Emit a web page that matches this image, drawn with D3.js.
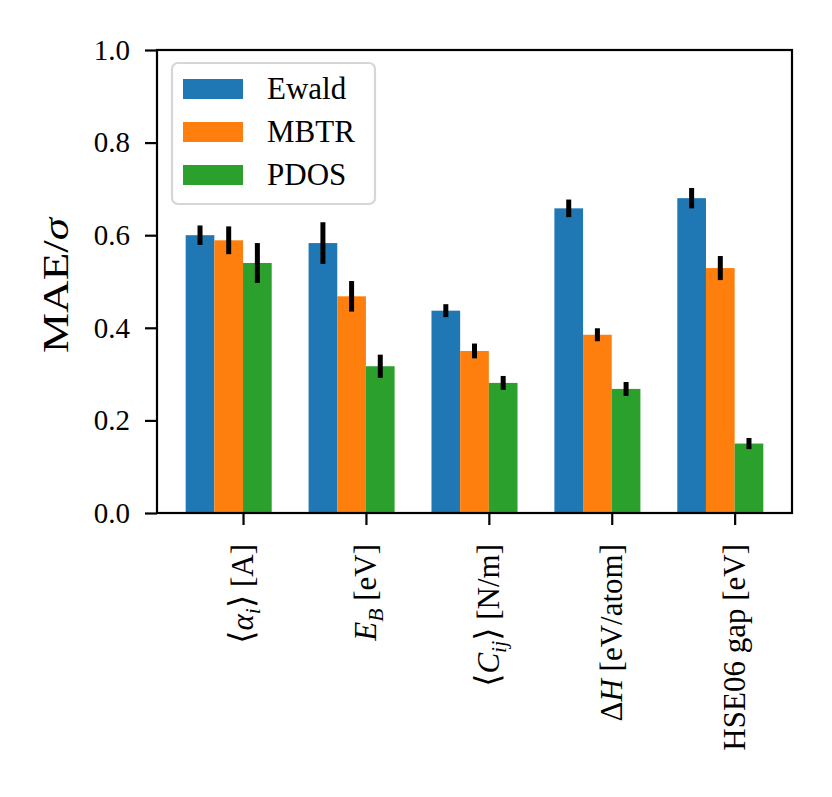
<!DOCTYPE html>
<html>
<head>
<meta charset="utf-8">
<script src="https://cdn.jsdelivr.net/npm/d3@7"></script>
<style>
	body { margin: 0; background: #fff; }
	svg text { font-family: "Liberation Serif", "DejaVu Serif", serif; fill: #000; }
</style>
</head>
<body>
<svg id="chart"></svg>
<script>
// chart data
var categories = ["⟨{α}_{i}⟩ [A]", "{E}_{B} [eV]", "⟨{C}_{ij}⟩ [N/m]", "Δ{H} [eV/atom]", "HSE06 gap [eV]"];
var seriesNames = ["Ewald", "MBTR", "PDOS"];
var ewald = [0.600, 0.583, 0.437, 0.658, 0.680];
var mbtr = [0.589, 0.468, 0.350, 0.385, 0.529];
var pdos = [0.540, 0.317, 0.281, 0.268, 0.150];
var ewaldErr = [0.021, 0.045, 0.014, 0.019, 0.022];
var mbtrErr = [0.030, 0.033, 0.016, 0.014, 0.026];
var pdosErr = [0.043, 0.025, 0.015, 0.015, 0.012];
var yTicks = [0.0, 0.2, 0.4, 0.6, 0.8, 1.0];
var yLabel = "MAE/{σ}";
var colors = ["#1f77b4", "#ff7f0e", "#2ca02c"];

var W = 832, H = 797;
var margin = {top: 50, left: 157, right: 40, bottom: 284},
	width = W - margin.left - margin.right,
	height = H - margin.top - margin.bottom,
	svg = d3.select("#chart").attr("width", W).attr("height", H),
	g = svg.append("g").attr("transform", "translate(" + margin.left + "," + margin.top + ")");

var bw = 0.7 / 3,
	fs = 31;

var x = d3.scaleLinear().domain([-3 * bw, categories.length - 1 + 2 * bw]).range([0, width]),
	y = d3.scaleLinear().domain([0, 1]).range([height, 0]);

// turns "a{b}_{c}" into italic / subscript tspans
var richText = function(sel, str, size) {
	var re = /_\{([^}]*)\}|\{([^}]*)\}|([^{_]+)/g, m, sub = false;
	while ((m = re.exec(str)) !== null) {
		if (m[1] !== undefined) {
			sel.append("tspan").attr("font-style", "italic").attr("font-size", size * 0.7)
				.attr("dy", size * 0.22).text(m[1]);
			sub = true;
		} else {
			var txt = m[2] !== undefined ? m[2] : m[3];
			var parts = txt.split(/([⟨⟩])/).filter(function(p) { return p.length; });
			parts.forEach(function(p) {
				var t = sel.append("tspan").text(p);
				if (p == "⟨" || p == "⟩") t.attr("font-size", size * 1.1);
				if (m[2] !== undefined) t.attr("font-style", "italic");
				if (sub) { t.attr("dy", -size * 0.22); sub = false; }
			});
		}
	}
};

var series = [
	{name: seriesNames[0], vals: ewald, err: ewaldErr, off: -2 * bw},
	{name: seriesNames[1], vals: mbtr, err: mbtrErr, off: -bw},
	{name: seriesNames[2], vals: pdos, err: pdosErr, off: 0}
];

series.forEach(function(s, si) {
	var grp = g.append("g").attr("class", "series");
	grp.selectAll("rect")
		.data(s.vals)
		.enter().append("rect")
			.attr("x", function(d, i) { return x(i + s.off); })
			.attr("y", function(d) { return y(d); })
			.attr("width", x(bw) - x(0))
			.attr("height", function(d) { return y(0) - y(d); })
			.attr("fill", colors[si]);
});

series.forEach(function(s) {
	g.append("g").selectAll("line")
		.data(s.vals)
		.enter().append("line")
			.attr("x1", function(d, i) { return x(i + s.off + bw / 2); })
			.attr("x2", function(d, i) { return x(i + s.off + bw / 2); })
			.attr("y1", function(d, i) { return y(d - s.err[i]); })
			.attr("y2", function(d, i) { return y(d + s.err[i]); })
			.attr("stroke", "#000")
			.attr("stroke-width", 5);
});

// axes
var yAxis = d3.axisLeft(y).tickValues(yTicks).tickFormat(d3.format(".1f")).tickSize(12).tickSizeOuter(0).tickPadding(15);
var gy = g.append("g").attr("class", "axis yaxis").call(yAxis);
gy.select(".domain").remove();
gy.selectAll(".tick line").attr("stroke-width", 2.2);
gy.selectAll(".tick text").attr("font-size", 29).attr("font-family", null);

var xAxis = d3.axisBottom(x).tickValues(d3.range(categories.length)).tickFormat("").tickSize(12).tickSizeOuter(0);
var gx = g.append("g").attr("class", "axis xaxis").attr("transform", "translate(0," + height + ")").call(xAxis);
gx.select(".domain").remove();
gx.selectAll(".tick line").attr("stroke-width", 2.2);

categories.forEach(function(c, i) {
	var t = g.append("text")
		.attr("transform", "translate(" + x(i) + "," + (height + 31) + ") rotate(-90)")
		.attr("text-anchor", "end")
		.attr("dy", "0.33em")
		.attr("font-size", fs);
	richText(t, c, fs);
});

// frame
g.append("rect")
	.attr("width", width).attr("height", height)
	.attr("fill", "none").attr("stroke", "#000").attr("stroke-width", 2.2);

// y label
var yl = g.append("text")
	.attr("transform", "translate(-89," + (height / 2 + 4) + ") rotate(-90)")
	.attr("text-anchor", "middle")
	.attr("font-size", 35)
	.attr("textLength", 135)
	.attr("lengthAdjust", "spacingAndGlyphs");
richText(yl, yLabel, 35);

// legend
var lg = g.append("g").attr("transform", "translate(15,13)");
lg.append("rect")
	.attr("width", 203).attr("height", 141).attr("rx", 6)
	.attr("fill", "#fff").attr("fill-opacity", 0.8)
	.attr("stroke", "#d6d6d6").attr("stroke-width", 2.2);
var items = lg.selectAll(".item").data(series).enter().append("g")
	.attr("transform", function(d, i) { return "translate(11," + (16 + i * 43) + ")"; });
items.append("rect")
	.attr("width", 60).attr("height", 20)
	.attr("fill", function(d, i) { return colors[i]; });
items.append("text")
	.attr("x", 84).attr("y", 20)
	.attr("font-size", fs)
	.text(function(d) { return d.name; });
</script>
</body>
</html>
